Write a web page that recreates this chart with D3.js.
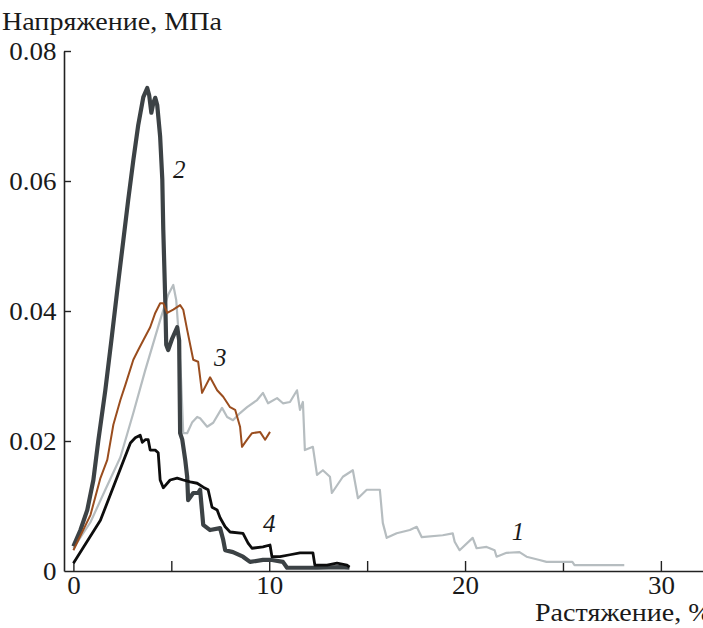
<!DOCTYPE html>
<html>
    <head>
        <meta charset="utf-8">
        <title>Напряжение - растяжение</title>
        <script src="https://d3js.org/d3.v7.min.js"></script>
    </head>
    <style>
        body { margin: 0; background: #fff; }
        svg text { font-family: "Liberation Serif", "DejaVu Serif", serif; fill: #1a1a1a; }
    </style>
    <body>

        <div id="my_dataviz"></div>

        <script>

            // podatki: [raztezek %, napetost MPa]
            var curve1 = [[0,0.0035],[0.87,0.0075],[1.63,0.0125],[2.40,0.0175],[3.06,0.0243],[3.67,0.0309],
                [4.43,0.0386],[4.84,0.0425],[5.10,0.0440],[5.25,0.0417],[5.35,0.0375],[5.50,0.0294],[5.61,0.0212],
                [5.81,0.0212],[6.07,0.0229],[6.32,0.0237],[6.47,0.0235],[6.83,0.0222],[7.14,0.0228],[7.59,0.0251],
                [7.85,0.0237],[8.15,0.0232],[8.51,0.0243],[8.87,0.0252],[9.38,0.0263],[9.68,0.0274],[9.94,0.0258],
                [10.40,0.0266],[10.70,0.0258],[11.06,0.0260],[11.42,0.0278],[11.57,0.0248],[11.72,0.0260],[11.82,0.0186],
                [12.23,0.0191],[12.44,0.0148],[12.74,0.0155],[13.10,0.0145],[13.20,0.0120],[13.76,0.0145],[14.27,0.0155],
                [14.53,0.0112],[14.98,0.0125],[15.65,0.0125],[15.80,0.0074],[16.00,0.0051],[16.51,0.0058],[17.18,0.0063],
                [17.53,0.0068],[17.79,0.0052],[18.86,0.0055],[19.37,0.0058],[19.47,0.0045],[19.72,0.0032],[20.39,0.0051],
                [20.59,0.0035],[21.10,0.0037],[21.51,0.0032],[21.61,0.0022],[22.12,0.0028],[22.78,0.0029],[23.14,0.0022],
                [23.80,0.0017],[24.16,0.0014],[25.48,0.0014],[25.59,0.0009],[28.13,0.0009]];

            var curve2 = [[0,0.0038],[0.36,0.0063],[0.71,0.0094],[1.02,0.0140],[1.27,0.0200],[1.63,0.0278],
                [1.94,0.0355],[2.24,0.0432],[2.55,0.0509],[2.80,0.0571],[3.06,0.0632],[3.31,0.0686],[3.57,0.0729],
                [3.77,0.0743],[3.87,0.0732],[3.98,0.0705],[4.08,0.0720],[4.18,0.0728],[4.28,0.0717],[4.43,0.0668],
                [4.54,0.0602],[4.59,0.0525],[4.69,0.0417],[4.74,0.0348],[4.84,0.0340],[5.05,0.0358],[5.30,0.0375],
                [5.40,0.0355],[5.45,0.0212],[5.56,0.0202],[5.71,0.0171],[5.81,0.0145],[5.86,0.0109],[6.12,0.0120],
                [6.37,0.0120],[6.47,0.0125],[6.63,0.0071],[6.98,0.0063],[7.49,0.0066],[7.65,0.0048],[7.75,0.0032],
                [8.15,0.0029],[8.66,0.0022],[9.02,0.0014],[9.68,0.0017],[10.14,0.0017],[10.70,0.0014],[10.91,0.0005],
                [12.44,0.0005],[13.60,0.0006],[14.10,0.0005]];

            var curve3 = [[0,0.0032],[0.87,0.0086],[1.38,0.0143],[1.73,0.0171],[2.04,0.0225],[2.40,0.0263],
                [2.65,0.0286],[3.06,0.0325],[3.31,0.0340],[3.57,0.0355],[3.92,0.0375],[4.18,0.0397],[4.43,0.0412],
                [4.59,0.0412],[4.79,0.0397],[5.10,0.0402],[5.45,0.0409],[5.61,0.0402],[5.81,0.0371],[6.12,0.0325],
                [6.37,0.0322],[6.57,0.0274],[6.98,0.0298],[7.34,0.0278],[7.65,0.0268],[8.00,0.0252],[8.26,0.0248],
                [8.51,0.0222],[8.61,0.0191],[8.87,0.0202],[9.12,0.0212],[9.53,0.0214],[9.79,0.0202],[10.04,0.0214]];

            var curve4 = [[0,0.0012],[1.38,0.0078],[2.91,0.0197],[3.16,0.0205],[3.41,0.0209],[3.52,0.0198],
                [3.67,0.0202],[3.82,0.0202],[3.92,0.0186],[4.18,0.0186],[4.33,0.0182],[4.43,0.0140],[4.59,0.0128],
                [4.94,0.0140],[5.30,0.0143],[5.61,0.0140],[5.96,0.0137],[6.32,0.0135],[6.63,0.0129],[6.88,0.0125],
                [7.08,0.0098],[7.34,0.0094],[7.49,0.0082],[7.75,0.0068],[8.00,0.0060],[8.66,0.0058],[8.92,0.0043],
                [9.12,0.0035],[9.68,0.0037],[10.04,0.0040],[10.14,0.0022],[10.55,0.0022],[11.06,0.0025],[11.57,0.0028],
                [12.23,0.0028],[12.33,0.0009],[12.95,0.0009],[13.46,0.0012],[13.97,0.0009],[14.10,0.0006]];

            var xTicks = [0, 5, 10, 15, 20, 25, 30, 35];
            var yTicks = [0, 0.02, 0.04, 0.06, 0.08];
            var curveLabels = ["1", "2", "3", "4"];
            // kje stojijo oznake krivulj (v enotah podatkov)
            var labelPos = [[22.7, 0.0048], [5.4, 0.0605], [7.5, 0.0315], [10.0, 0.006]];

            var STRETCH = 1.08; // pisava v originalu je malo širša

            var width = 703, height = 628;

            var svg = d3.select("#my_dataviz")
                .append("svg")
                .attr("width", width)
                .attr("height", height);

            // X os
            var x = d3.scaleLinear()
                .domain([-0.48, 35])
                .range([64, 758.8]);

            // Y os
            var y = d3.scaleLinear()
                .domain([0, 0.08])
                .range([571, 51]);

            var gx = svg.append("g")
                .attr("transform", "translate(0," + y(0) + ")")
                .call(d3.axisBottom(x)
                    .tickValues(xTicks)
                    .tickSizeInner(-10)
                    .tickSizeOuter(0)
                    .tickPadding(5)
                    .tickFormat(function(d) { return d % 10 === 0 ? d : ""; }));

            var gy = svg.append("g")
                .attr("transform", "translate(" + x(-0.48) + ",0)")
                .call(d3.axisLeft(y)
                    .tickValues(yTicks)
                    .tickSizeInner(-7)
                    .tickSizeOuter(0)
                    .tickPadding(7)
                    .tickFormat(function(d) { return d === 0 ? "0" : d3.format(".2f")(d); }));

            [gx, gy].forEach(function(g) {
                g.select(".domain").attr("stroke", "#222").attr("stroke-width", 1.6);
                g.selectAll(".tick line").attr("stroke", "#222").attr("stroke-width", 1.4);
                g.selectAll(".tick text")
                    .attr("font-size", 25)
                    .attr("fill", "#1a1a1a");
            });
            gy.selectAll(".tick text").attr("transform", "scale(" + STRETCH + ",1)");
            gy.selectAll(".tick").filter(function(d) { return d === 0; }).select("line").remove();
            gx.selectAll(".tick text").attr("transform", "scale(" + STRETCH + ",1)");

            // naslova osi
            svg.append("text")
                .attr("transform", "translate(2,30) scale(" + STRETCH + ",1)")
                .attr("font-size", 26)
                .text("Напряжение, МПа");

            svg.append("text")
                .attr("transform", "translate(535,621) scale(" + STRETCH + ",1)")
                .attr("font-size", 26)
                .text("Растяжение, %");

            var line = d3.line()
                .x(function(d) { return x(d[0]); })
                .y(function(d) { return y(d[1]); });

            // krivulje
            svg.append("path").datum(curve1)
                .attr("fill", "none").attr("stroke", "#b6bdc0").attr("stroke-width", 2.2)
                .attr("stroke-linejoin", "round")
                .attr("d", line);

            svg.append("path").datum(curve2)
                .attr("fill", "none").attr("stroke", "#3c4245").attr("stroke-width", 4.2)
                .attr("stroke-linejoin", "round")
                .attr("d", line);

            svg.append("path").datum(curve3)
                .attr("fill", "none").attr("stroke", "#9a4d1e").attr("stroke-width", 2)
                .attr("stroke-linejoin", "round")
                .attr("d", line);

            svg.append("path").datum(curve4)
                .attr("fill", "none").attr("stroke", "#0d0d0d").attr("stroke-width", 2.8)
                .attr("stroke-linejoin", "round")
                .attr("d", line);

            // oznake krivulj
            svg.selectAll(".clabel")
                .data(curveLabels)
                .enter()
                .append("text")
                .attr("class", "clabel")
                .attr("x", function(d, i) { return x(labelPos[i][0]); })
                .attr("y", function(d, i) { return y(labelPos[i][1]); })
                .attr("text-anchor", "middle")
                .attr("font-size", 25)
                .attr("font-style", "italic")
                .text(function(d) { return d; });

        </script>
    </body>
</html>
